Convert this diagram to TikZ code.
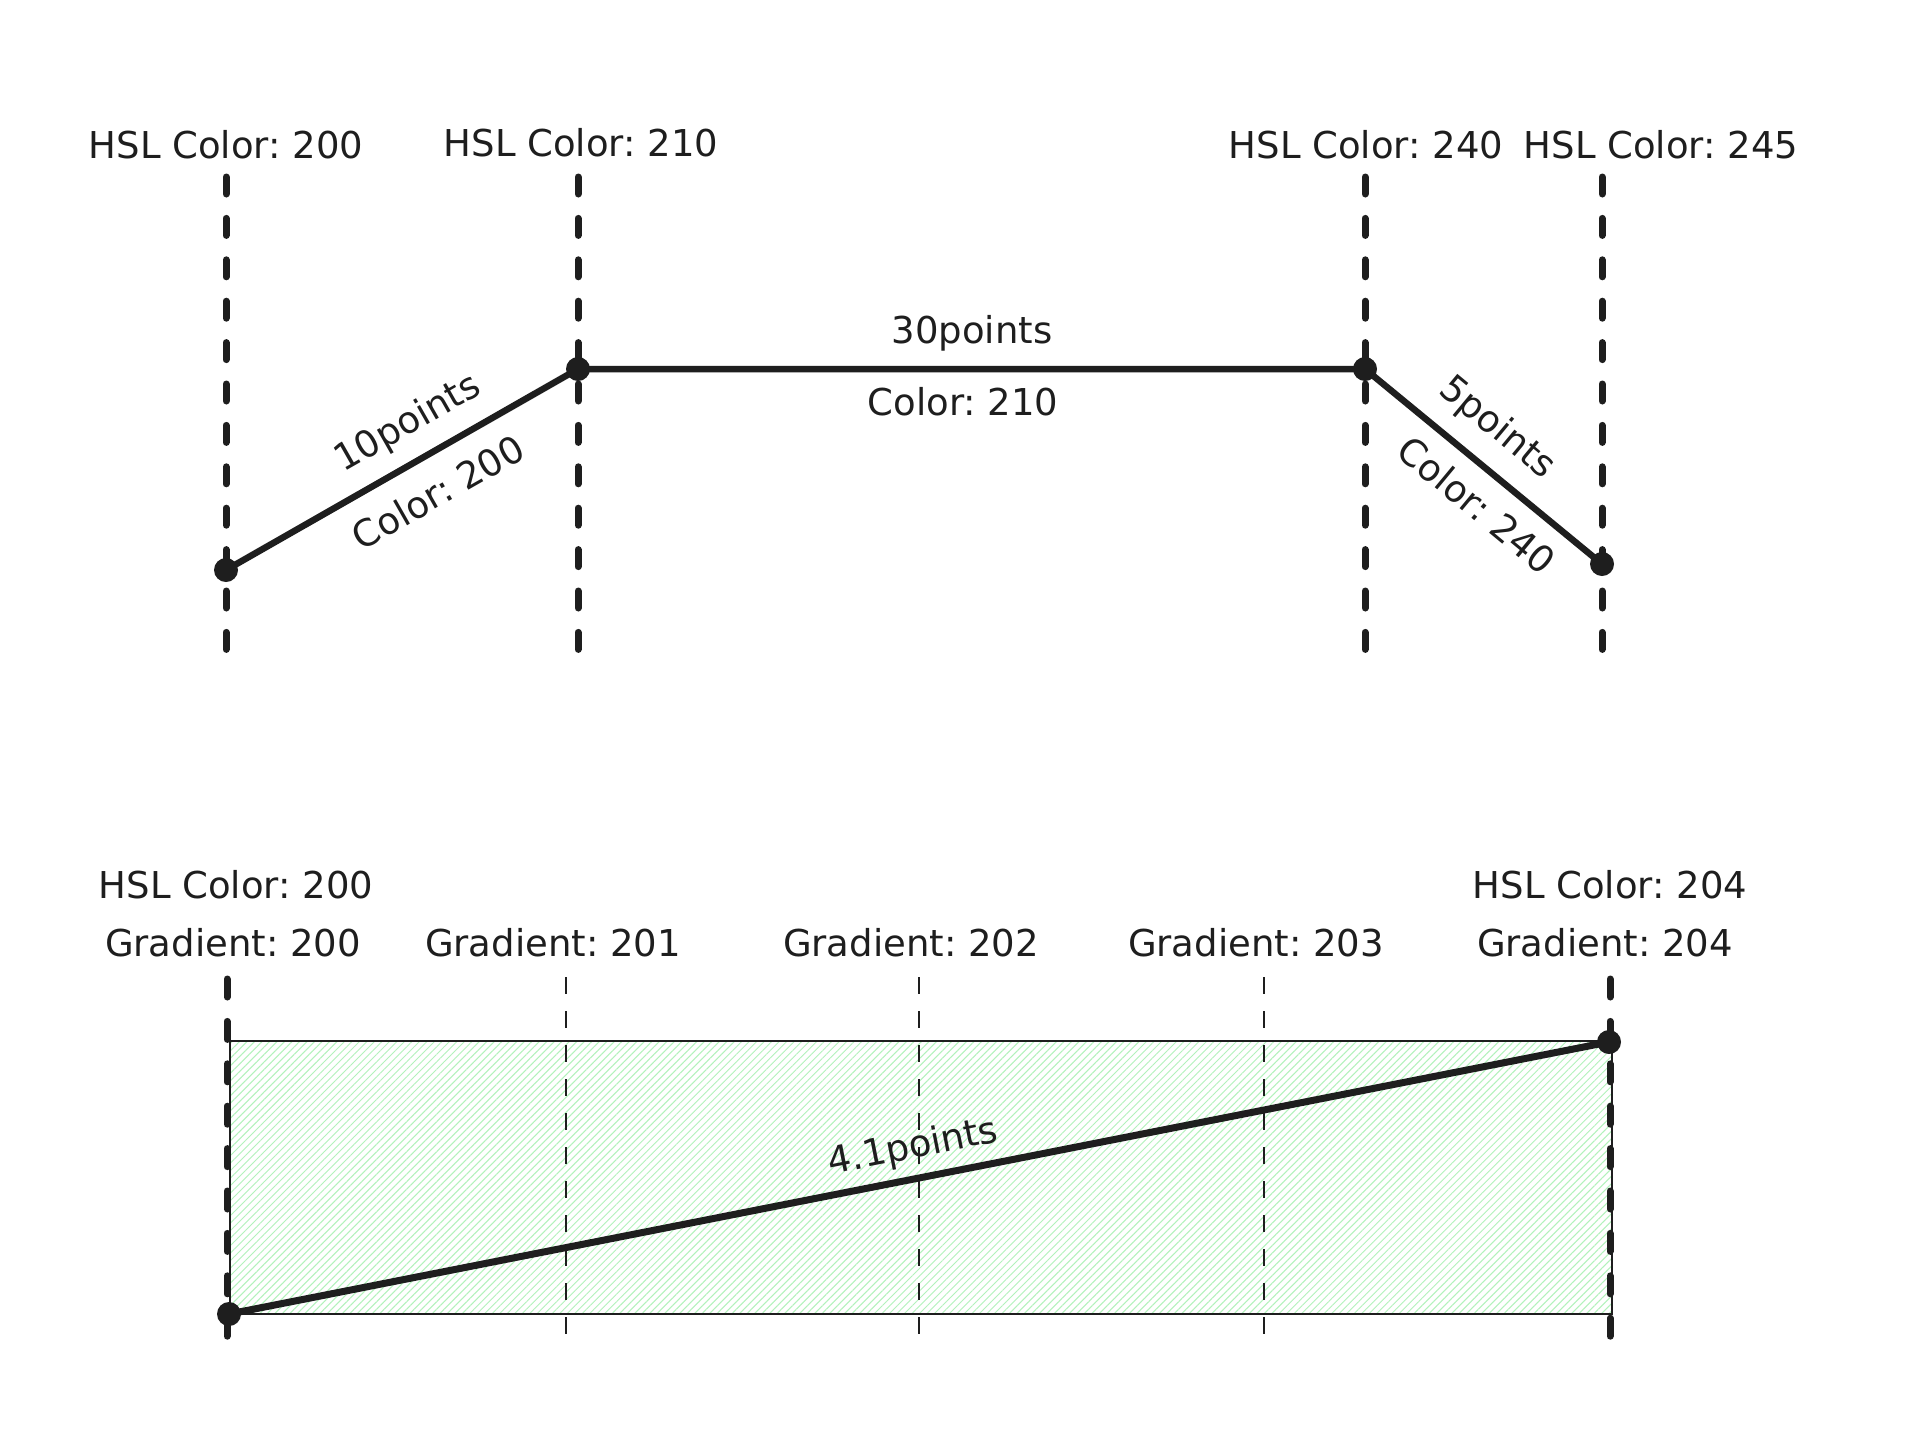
\documentclass[tikz,border=0pt]{standalone}
\usepackage{fontspec}
\setmainfont{DejaVu Sans}
\usetikzlibrary{patterns.meta}
\definecolor{ink}{HTML}{1E1E1E}
\definecolor{hatchgreen}{HTML}{B2F2BB}
\begin{document}
\frenchspacing
\begin{tikzpicture}[x=1pt,y=-1pt,
  lbl/.style={font=\fontsize{37}{42}\selectfont, text=ink, inner sep=0pt},
  guide/.style={draw=ink, line width=7pt, line cap=round, dash pattern=on 17pt off 24.4pt},
  guideb/.style={draw=ink, line width=7pt, line cap=round, dash pattern=on 18pt off 24.4pt},
  thinguide/.style={draw=ink, line width=2.5pt, dash pattern=on 17pt off 17pt},
  curve/.style={draw=ink, line width=6.5pt, line join=round, line cap=round},
  pt/.style={circle, fill=ink, inner sep=0pt, minimum size=24pt},
]
\useasboundingbox[fill=white] (0,0) rectangle (1914,1446);

% ---------- top: guides ----------
\coordinate (g1t) at (226,177); \coordinate (g1b) at (226,656);
\coordinate (g2t) at (578,177); \coordinate (g2b) at (578,656);
\coordinate (g3t) at (1365,177); \coordinate (g3b) at (1365,656);
\coordinate (g4t) at (1602,177); \coordinate (g4b) at (1602,656);
\draw[guide] (g1t) -- (g1b);
\draw[guide] (g2t) -- (g2b);
\draw[guide] (g3t) -- (g3b);
\draw[guide] (g4t) -- (g4b);

\node[lbl] (h1) at (226,145) {HSL Color: 200};
\node[lbl] (h2) at (581,143) {HSL Color: 210};
\node[lbl] (h3) at (1366,145) {HSL Color: 240};
\node[lbl] (h4) at (1661,145) {HSL Color: 245};

% ---------- top: curve ----------
\node[pt] (pA) at (226,570) {};
\node[pt] (pB) at (578,369) {};
\node[pt] (pC) at (1365,369) {};
\node[pt] (pD) at (1602,564) {};
\draw[curve] (pA.center) -- (pB.center) -- (pC.center) -- (pD.center);

\node[lbl, rotate=29.7] (s1a) at (408,424) {10points};
\node[lbl, rotate=29.7] (s1b) at (438,492) {Color: 200};
\node[lbl] (s2a) at (972,333) {30points};
\node[lbl] (s2b) at (963,402) {Color: 210};
\node[lbl, rotate=-39.7] (s3a) at (1497,428) {5points};
\node[lbl, rotate=-39.7] (s3b) at (1477,505) {Color: 240};

% ---------- bottom ----------
\path[pattern={Lines[angle=45,distance=5.3pt,line width=1pt]}, pattern color=hatchgreen]
  (230,1041) rectangle (1612,1314);
\draw[ink, line width=1.6pt] (230,1041) rectangle (1612,1314);

\coordinate (b1t) at (227,979); \coordinate (b1b) at (227,1343);
\coordinate (b2t) at (566,977); \coordinate (b2b) at (566,1343);
\coordinate (b3t) at (919,977); \coordinate (b3b) at (919,1343);
\coordinate (b4t) at (1264,977); \coordinate (b4b) at (1264,1343);
\coordinate (b5t) at (1610,979); \coordinate (b5b) at (1610,1343);
\draw[guideb] (b1t) -- (b1b);
\draw[thinguide] (b2t) -- (b2b);
\draw[thinguide] (b3t) -- (b3b);
\draw[thinguide] (b4t) -- (b4b);
\draw[guideb] (b5t) -- (b5b);

\node[pt] (pE) at (229,1314) {};
\node[pt] (pF) at (1609,1042) {};
\draw[curve, line width=7pt] (pE.center) -- (pF.center);
\node[lbl, rotate=11.2] (s4) at (913,1148) {4.1points};

\node[lbl] (k1) at (236,885) {HSL Color: 200};
\node[lbl] (k2) at (1610,885) {HSL Color: 204};
\node[lbl] (r1) at (233,943) {Gradient: 200};
\node[lbl] (r2) at (553,943) {Gradient: 201};
\node[lbl] (r3) at (911,943) {Gradient: 202};
\node[lbl] (r4) at (1256,943) {Gradient: 203};
\node[lbl] (r5) at (1605,943) {Gradient: 204};
\end{tikzpicture}
\end{document}
